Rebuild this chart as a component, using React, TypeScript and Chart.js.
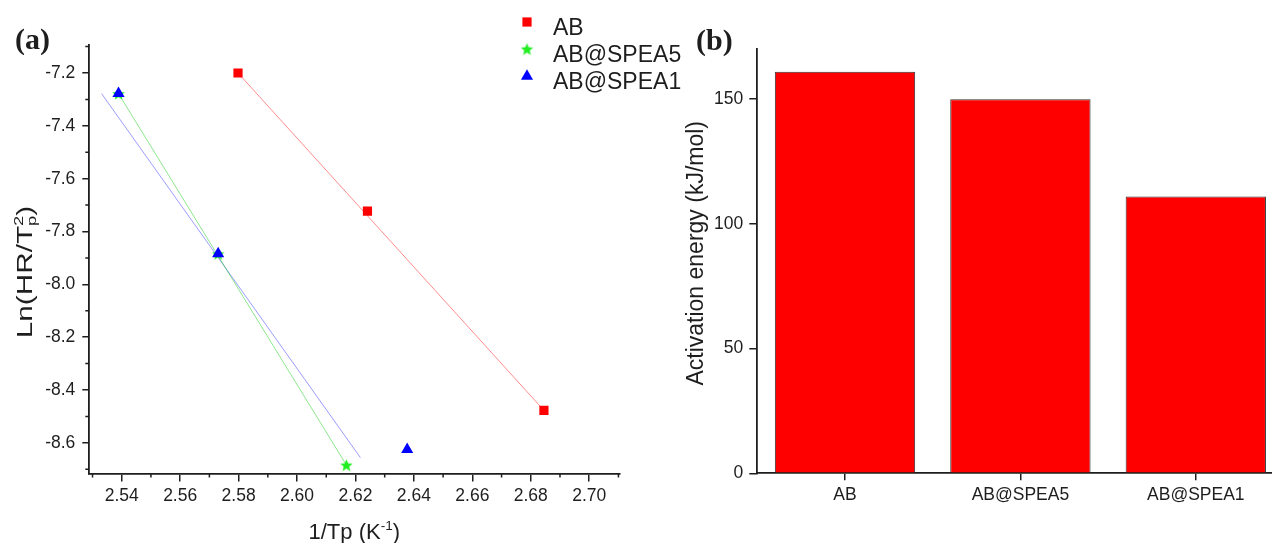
import React, { useEffect, useRef } from 'react';
import { Chart, registerables } from 'chart.js';
import { drawPoint } from 'chart.js/helpers';

Chart.register(...registerables);

const SANS = '"Liberation Sans", Arial, sans-serif';
const SERIF = '"Liberation Serif", "Times New Roman", serif';
const INK = '#1e1e1e';

// ---- Panel (a): Kissinger plot ----
const seriesNames = ['AB', 'AB@SPEA5', 'AB@SPEA1'];
const abX = [2.5798, 2.6241, 2.6845];
const abY = [-7.2, -7.723, -8.477];
const spea5X = [2.5389, 2.573, 2.6169];
const spea5Y = [-7.278, -7.884, -8.684];
const spea1X = [2.5389, 2.573, 2.6377];
const spea1Y = [-7.278, -7.884, -8.625];

// linear fit segments (start, end)
const abFitX = [2.5798, 2.6845];
const abFitY = [-7.2, -8.477];
const spea5FitX = [2.5389, 2.6169];
const spea5FitY = [-7.278, -8.684];
const spea1FitX = [2.5331, 2.6217];
const spea1FitY = [-7.278, -8.656];

const xRangeA = [2.5289, 2.7103];
const yRangeA = [-8.716, -7.094];
const xMajorA = [2.54, 2.56, 2.58, 2.6, 2.62, 2.64, 2.66, 2.68, 2.7];
const xMinorA = [2.53, 2.55, 2.57, 2.59, 2.61, 2.63, 2.65, 2.67, 2.69, 2.71];
const yMajorA = [-8.6, -8.4, -8.2, -8.0, -7.8, -7.6, -7.4, -7.2];
const yMinorA = [-8.7, -8.5, -8.3, -8.1, -7.9, -7.7, -7.5, -7.3, -7.1];

// ---- Panel (b): activation energy ----
const energyCategories = ['AB', 'AB@SPEA5', 'AB@SPEA1'];
const activationEnergy = [161, 150, 111];
const energyTicks = [0, 50, 100, 150];
const energyMax = 170;

const RED = '#ff0000';
const GREEN = '#22ee22';
const BLUE = '#0000ff';

type Run = { text?: string; sup?: string; sub?: string };

function runsWidth(ctx: CanvasRenderingContext2D, runs: Run[], size: number) {
  let w = 0;
  for (const r of runs) {
    if (r.text) {
      ctx.font = `${size}px ${SANS}`;
      w += ctx.measureText(r.text).width;
    } else {
      ctx.font = `${size * 0.62}px ${SANS}`;
      w += Math.max(r.sup ? ctx.measureText(r.sup).width : 0, r.sub ? ctx.measureText(r.sub).width : 0);
    }
  }
  return w;
}

function drawRuns(ctx: CanvasRenderingContext2D, runs: Run[], cx: number, baseline: number, size: number) {
  const total = runsWidth(ctx, runs, size);
  let x = cx - total / 2;
  ctx.textAlign = 'left';
  ctx.textBaseline = 'alphabetic';
  ctx.fillStyle = INK;
  for (const r of runs) {
    if (r.text) {
      ctx.font = `${size}px ${SANS}`;
      ctx.fillText(r.text, x, baseline);
      x += ctx.measureText(r.text).width;
    } else {
      ctx.font = `${size * 0.62}px ${SANS}`;
      let w = 0;
      if (r.sup) {
        ctx.fillText(r.sup, x, baseline - size * 0.4);
        w = Math.max(w, ctx.measureText(r.sup).width);
      }
      if (r.sub) {
        ctx.fillText(r.sub, x, baseline + size * 0.2);
        w = Math.max(w, ctx.measureText(r.sub).width);
      }
      x += w;
    }
  }
}

function makeStar(size: number, color: string) {
  const c = document.createElement('canvas');
  c.width = size;
  c.height = size;
  const g = c.getContext('2d')!;
  const cx = size / 2;
  const cy = size / 2 + size * 0.05;
  const R = size / 2;
  const r = R * 0.45;
  g.beginPath();
  for (let i = 0; i < 10; i++) {
    const ang = -Math.PI / 2 + (i * Math.PI) / 5;
    const rad = i % 2 === 0 ? R : r;
    const px = cx + Math.cos(ang) * rad;
    const py = cy + Math.sin(ang) * rad;
    if (i === 0) g.moveTo(px, py);
    else g.lineTo(px, py);
  }
  g.closePath();
  g.fillStyle = color;
  g.fill();
  return c;
}

const minorTicksPlugin = {
  id: 'minorTicks',
  afterDraw(chart: any, _args: any, opts: any) {
    const { ctx, chartArea } = chart;
    const xs = chart.scales.x;
    const ys = chart.scales.y;
    ctx.save();
    ctx.strokeStyle = INK;
    ctx.lineWidth = 1.5;
    ctx.beginPath();
    (opts.x || []).forEach((v: number) => {
      const px = xs.getPixelForValue(v);
      ctx.moveTo(px, chartArea.bottom);
      ctx.lineTo(px, chartArea.bottom + 4);
    });
    (opts.y || []).forEach((v: number) => {
      const py = ys.getPixelForValue(v);
      ctx.moveTo(chartArea.left - 4, py);
      ctx.lineTo(chartArea.left, py);
    });
    ctx.stroke();
    ctx.restore();
  },
};

const kissingerDecor = {
  id: 'kissingerDecor',
  afterDraw(chart: any) {
    const { ctx, chartArea } = chart;
    ctx.save();
    // axis titles
    const cx = (chartArea.left + chartArea.right) / 2;
    drawRuns(ctx, [{ text: '1/Tp (K' }, { sup: '-1' }, { text: ')' }], cx, 539, 22);
    ctx.save();
    ctx.translate(32, 272);
    ctx.rotate(-Math.PI / 2);
    ctx.scale(1.35, 1);
    drawRuns(ctx, [{ text: 'Ln(HR/T' }, { sup: '2', sub: 'p' }, { text: ')' }], 0, 0, 22);
    ctx.restore();
    // panel letter
    ctx.font = `bold 30px ${SERIF}`;
    ctx.fillStyle = INK;
    ctx.textAlign = 'left';
    ctx.textBaseline = 'alphabetic';
    ctx.fillText('(a)', 15, 49);
    // legend
    const rows = [22, 49, 76.3];
    chart.data.datasets.slice(0, 3).forEach((ds: any, i: number) => {
      ctx.fillStyle = ds.pointBackgroundColor;
      ctx.strokeStyle = ds.pointBackgroundColor;
      drawPoint(
        ctx,
        {
          pointStyle: ds.pointStyle,
          radius: ds.pointRadius,
          rotation: 0,
          borderWidth: 0,
        } as any,
        527,
        rows[i]
      );
      ctx.fillStyle = INK;
      ctx.font = `23px ${SANS}`;
      ctx.textAlign = 'left';
      ctx.textBaseline = 'alphabetic';
      ctx.fillText(seriesNames[i], 553, rows[i] + 13);
    });
    ctx.restore();
  },
};

const energyDecor = {
  id: 'energyDecor',
  afterDraw(chart: any) {
    const { ctx, chartArea } = chart;
    ctx.save();
    ctx.translate(63, (chartArea.top + chartArea.bottom) / 2 - 8);
    ctx.rotate(-Math.PI / 2);
    drawRuns(ctx, [{ text: 'Activation energy (kJ/mol)' }], 0, 0, 23);
    ctx.restore();
    ctx.save();
    ctx.font = `bold 30px ${SERIF}`;
    ctx.fillStyle = INK;
    ctx.textAlign = 'left';
    ctx.textBaseline = 'alphabetic';
    ctx.fillText('(b)', 56, 50);
    ctx.restore();
  },
};

const pts = (xs: number[], ys: number[]) => xs.map((x, i) => ({ x, y: ys[i] }));

function KissingerChart() {
  const ref = useRef<HTMLCanvasElement | null>(null);
  useEffect(() => {
    if (!ref.current) return;
    const star = makeStar(13, GREEN);
    const chart = new Chart(ref.current, {
      type: 'scatter',
      data: {
        datasets: [
          {
            label: seriesNames[0],
            data: pts(abX, abY),
            pointStyle: 'rect',
            pointRadius: 6.5,
            pointBackgroundColor: RED,
            pointBorderColor: RED,
            pointBorderWidth: 0,
            order: 2,
          },
          {
            label: seriesNames[1],
            data: pts(spea5X, spea5Y),
            pointStyle: star as any,
            pointRadius: 6.5,
            pointBackgroundColor: GREEN,
            pointBorderColor: GREEN,
            pointBorderWidth: 0,
            order: 3,
          },
          {
            label: seriesNames[2],
            data: pts(spea1X, spea1Y),
            pointStyle: 'triangle',
            pointRadius: 7,
            pointBackgroundColor: BLUE,
            pointBorderColor: BLUE,
            pointBorderWidth: 0,
            order: 1,
          },
          {
            label: 'AB fit',
            data: pts(abFitX, abFitY),
            showLine: true,
            pointRadius: 0,
            borderColor: 'rgba(255,0,0,0.45)',
            borderWidth: 1,
            order: 5,
          },
          {
            label: 'AB@SPEA5 fit',
            data: pts(spea5FitX, spea5FitY),
            showLine: true,
            pointRadius: 0,
            borderColor: 'rgba(0,200,0,0.45)',
            borderWidth: 1,
            order: 5,
          },
          {
            label: 'AB@SPEA1 fit',
            data: pts(spea1FitX, spea1FitY),
            showLine: true,
            pointRadius: 0,
            borderColor: 'rgba(60,60,255,0.5)',
            borderWidth: 1,
            order: 5,
          },
        ] as any,
      },
      options: {
        animation: false,
        responsive: false,
        maintainAspectRatio: false,
        layout: { autoPadding: false, padding: { top: 45, right: 70.7, left: 0, bottom: 0 } },
        plugins: {
          legend: { display: false },
          tooltip: { enabled: false },
          minorTicks: { x: xMinorA, y: yMinorA },
        } as any,
        scales: {
          x: {
            type: 'linear',
            min: xRangeA[0],
            max: xRangeA[1],
            afterBuildTicks: (s: any) => {
              s.ticks = xMajorA.map((v) => ({ value: v }));
            },
            afterFit: (s: any) => {
              s.height = 543 - 473.5;
            },
            ticks: {
              autoSkip: false,
              maxRotation: 0,
              padding: 4,
              color: INK,
              font: { family: SANS, size: 17.5 },
              callback: (v: any) => Number(v).toFixed(2),
            },
            grid: { drawOnChartArea: false, drawTicks: true, tickLength: 8, color: INK, lineWidth: 1.5 },
            border: { display: true, color: INK, width: 1.8 },
            title: { display: false },
          },
          y: {
            type: 'linear',
            min: yRangeA[0],
            max: yRangeA[1],
            afterBuildTicks: (s: any) => {
              s.ticks = yMajorA.map((v) => ({ value: v }));
            },
            afterFit: (s: any) => {
              s.width = 89.3;
            },
            ticks: {
              autoSkip: false,
              padding: 7,
              color: INK,
              font: { family: SANS, size: 17.5 },
              callback: (v: any) => Number(v).toFixed(1),
            },
            grid: { drawOnChartArea: false, drawTicks: true, tickLength: 7, color: INK, lineWidth: 1.5 },
            border: { display: true, color: INK, width: 1.8 },
            title: { display: false },
          },
        },
      } as any,
      plugins: [minorTicksPlugin, kissingerDecor] as any,
    });
    return () => chart.destroy();
  }, []);
  return (
    <canvas
      ref={ref}
      width={690}
      height={543}
      style={{ position: 'absolute', left: 0, top: 0, width: 690, height: 543 }}
    />
  );
}

function EnergyChart() {
  const ref = useRef<HTMLCanvasElement | null>(null);
  useEffect(() => {
    if (!ref.current) return;
    const chart = new Chart(ref.current, {
      type: 'bar',
      data: {
        labels: energyCategories,
        datasets: [
          {
            label: 'Activation energy',
            data: activationEnergy,
            backgroundColor: RED,
            borderColor: '#333333',
            borderWidth: 1,
            barPercentage: 0.8,
            categoryPercentage: 1,
          },
        ],
      },
      options: {
        animation: false,
        responsive: false,
        maintainAspectRatio: false,
        layout: { autoPadding: false, padding: { top: 49.3, right: 16.5, left: 0, bottom: 0 } },
        plugins: { legend: { display: false }, tooltip: { enabled: false } },
        scales: {
          x: {
            offset: true,
            afterFit: (s: any) => {
              s.height = 543 - 473.3;
            },
            ticks: {
              autoSkip: false,
              maxRotation: 0,
              padding: 4,
              color: INK,
              font: { family: SANS, size: 17.5 },
            },
            grid: { offset: false, drawOnChartArea: false, drawTicks: true, tickLength: 7, color: INK, lineWidth: 1.5 },
            border: { display: true, color: INK, width: 1.8 },
          },
          y: {
            min: 0,
            max: energyMax,
            afterBuildTicks: (s: any) => {
              s.ticks = energyTicks.map((v) => ({ value: v }));
            },
            afterFit: (s: any) => {
              s.width = 117.3;
            },
            ticks: {
              autoSkip: false,
              padding: 6,
              color: INK,
              font: { family: SANS, size: 17.5 },
            },
            grid: { drawOnChartArea: false, drawTicks: true, tickLength: 8, color: INK, lineWidth: 1.5 },
            border: { display: true, color: INK, width: 1.8 },
          },
        },
      } as any,
      plugins: [energyDecor] as any,
    });
    return () => chart.destroy();
  }, []);
  return (
    <canvas
      ref={ref}
      width={660}
      height={543}
      style={{ position: 'absolute', left: 640, top: 0, width: 660, height: 543 }}
    />
  );
}

export default function App() {
  return (
    <div
      style={{
        position: 'fixed',
        left: 0,
        top: 0,
        width: 1272,
        height: 543,
        overflow: 'hidden',
        background: '#ffffff',
      }}
    >
      <KissingerChart />
      <EnergyChart />
    </div>
  );
}
